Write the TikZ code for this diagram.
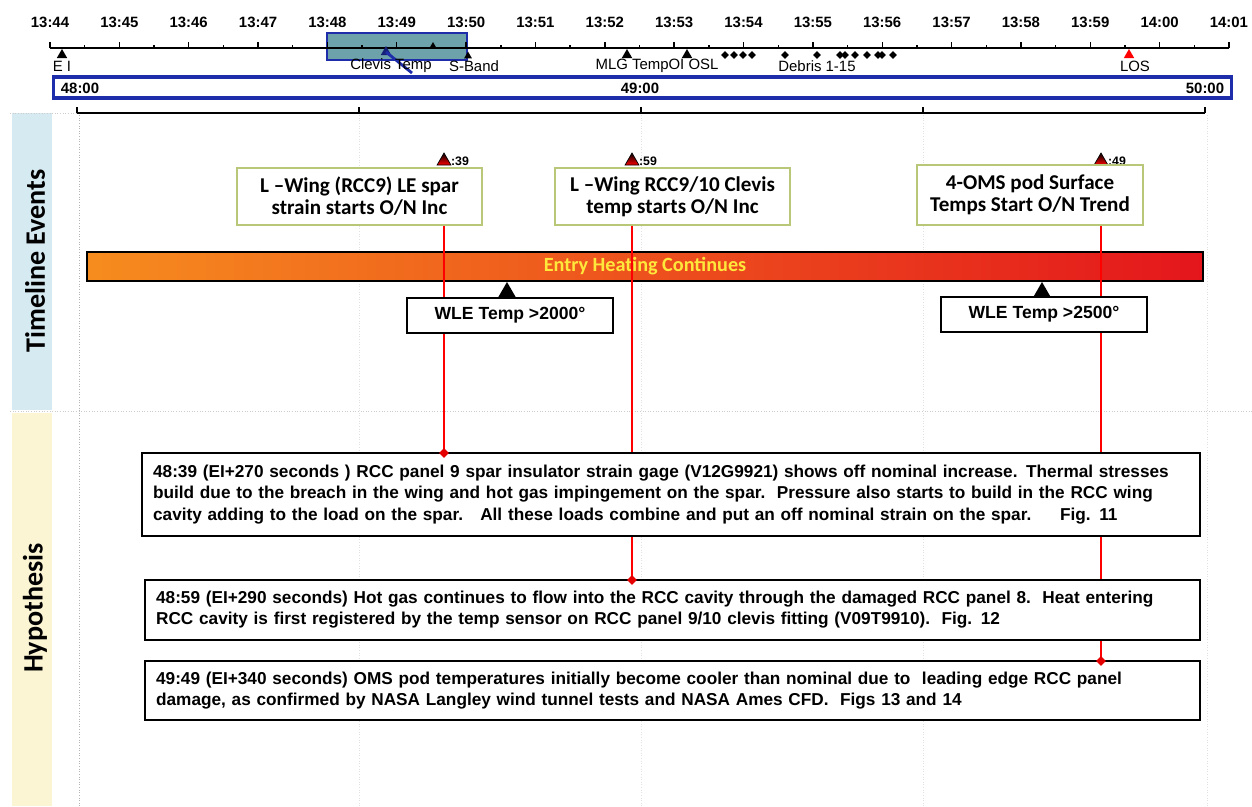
\documentclass[tikz,border=0pt]{standalone}
\usepackage{fontspec}
\setmainfont{Liberation Sans}
\newfontfamily\calfont{Carlito}
\usetikzlibrary{shapes.geometric,positioning}
\definecolor{tlblue}{RGB}{30,45,170}
\definecolor{hlfill}{RGB}{110,162,170}
\definecolor{evgreen}{RGB}{185,200,120}
\definecolor{bandblue}{RGB}{214,234,242}
\definecolor{bandyellow}{RGB}{252,245,212}
\definecolor{heatorange}{RGB}{246,140,30}
\definecolor{heatmid}{RGB}{242,90,30}
\definecolor{heatred}{RGB}{228,22,28}
\definecolor{heattext}{RGB}{255,232,60}
\definecolor{gridgray}{RGB}{205,205,205}

\begin{document}
\begin{tikzpicture}[x=0.02cm,y=-0.02cm,
  tlab/.style={font=\bfseries\fontsize{8.5}{10}\selectfont, inner sep=0pt},
  mlab/.style={font=\fontsize{8.5}{10}\selectfont, inner sep=0pt},
  tri/.style={regular polygon, regular polygon sides=3, fill=black, inner sep=0pt, minimum size=0.24cm},
  dmd/.style={diamond, fill=black, inner sep=0pt, minimum size=0.16cm},
  evbox/.style={draw=evgreen, line width=0.8pt, fill=white, align=center, minimum height=1.14cm, font=\calfont\bfseries\fontsize{12}{12.5}\selectfont},
  evmark/.style={regular polygon, regular polygon sides=3, draw=black, top color=black, bottom color=red, inner sep=0pt, minimum size=0.32cm},
  evtime/.style={font=\bfseries\fontsize{7}{8}\selectfont, inner sep=0pt},
  wlebox/.style={draw, thick, fill=white, minimum width=4.12cm, minimum height=0.7cm, font=\bfseries\fontsize{10}{12}\selectfont},
  hypbox/.style={draw, thick, fill=white, align=left, inner xsep=0.22cm, text width=20.66cm, font=\bfseries\fontsize{9.8}{12}\selectfont},
  redline/.style={red, line width=0.6pt},
  reddot/.style={diamond, fill=red!90!black, inner sep=0pt, minimum size=0.2cm},
  grid/.style={gridgray, densely dotted, line width=0.5pt},
  band/.style={rotate=90, font=\calfont\bfseries\fontsize{16}{18}\selectfont}
]
\useasboundingbox (0,0) rectangle (1252,806);

\fill[bandblue] (12,113) rectangle (52,410);
\fill[bandyellow] (12,413) rectangle (52,806);
\node[band] (bandte) at (35,261) {Timeline Events};
\node[band] (bandhy) at (35,608) {Hypothesis};
\draw[grid] (10,113) -- (77,113);
\draw[grid] (10,411) -- (1252,411);
\draw[grid, gridgray!150] (79,115) -- (79,806);
\foreach \x in {359,641,923,1207}
  \draw[grid, gridgray!60] (\x,115) -- (\x,806);

\fill[hlfill, draw=tlblue, line width=1.6pt] (327,33) rectangle (467,60);
\foreach \t [count=\i from 0] in {13:44,13:45,13:46,13:47,13:48,13:49,13:50,13:51,13:52,13:53,13:54,13:55,13:56,13:57,13:58,13:59,14:00,14:01}
  \node[tlab] (t\i) at (50+69.35*\i,22) {\t};
\draw[line width=0.8pt] (50,48) -- (1229,48);
\foreach \k in {0,...,17}
  \draw[line width=0.8pt] (50+69.35*\k,48) -- ++(0,-6);
\foreach \k in {0,...,16}
  \draw[line width=0.8pt] (84.7+69.35*\k,48) -- ++(0,-3);

\node[tri] (mei) at (62,55) {};
\node[mlab] (lei) at (62,66) {E I};
\node[tri, fill=tlblue!70!black] (mct) at (386,52) {};
\draw[tlblue, line width=1.6pt] (mct.center) -- (412,73);
\node[tri, minimum size=0.16cm] (mct2) at (433,46) {};
\node[mlab] (lct) at (391,66) {Clevis Temp};
\node[tri, minimum size=0.18cm] (msb) at (468,56) {};
\node[mlab] (lsb) at (474,66) {S-Band};
\node[tri] (mmlg) at (627,55) {};
\node[tri] (moi) at (687,55) {};
\node[mlab] (lmlg) at (657,66) {MLG TempOI OSL};
\foreach \x [count=\j] in {725,734,743,752,785,817,840,845,855,867,878,882,893}
  \node[dmd] (dbr\j) at (\x,55) {};
\node[mlab] (ldbr) at (817,66) {Debris 1-15};
\node[tri, fill=red] (mlos) at (1129,55) {};
\node[mlab] (llos) at (1135,66) {LOS};

\node[draw=tlblue, line width=1.8pt, minimum width=23.58cm, minimum height=0.42cm] (clock) at (642.5,87.5) {};
\node[tlab] (c48) at (80,88) {48:00};
\node[tlab] (c49) at (640,88) {49:00};
\node[tlab] (c50) at (1205,88) {50:00};
\draw[line width=0.8pt] (77,113) -- (1205,113);
\foreach \x in {77,359,641,923,1205}
  \draw[line width=0.8pt] (\x,113) -- (\x,107);

\node[evmark] (m1) at (444,161) {};
\node[evtime, right=1pt of m1] (m1t) {:39};
\node[evmark] (m2) at (632,161) {};
\node[evtime, right=1pt of m2] (m2t) {:59};
\node[evmark] (m3) at (1101,161) {};
\node[evtime, right=1pt of m3] (m3t) {:49};
\node[evbox, minimum width=4.9cm] (ev1) at (359.5,196.5) {L –Wing (RCC9) LE spar\\strain starts O/N Inc};
\node[evbox, minimum width=4.7cm] (ev2) at (672.5,196.5) {L –Wing RCC9/10 Clevis\\temp starts O/N Inc};
\node[evbox, minimum width=4.52cm, minimum height=1.2cm] (ev3) at (1030,195) {4-OMS pod Surface\\Temps Start O/N Trend};

\node[draw, line width=0.8pt, minimum width=22.32cm, minimum height=0.54cm, left color=heatorange, middle color=heatmid, right color=heatred, text=heattext, font=\calfont\bfseries\fontsize{11.5}{13}\selectfont] (heat) at (645,266.5) {Entry Heating Continues};

\coordinate (d1) at (444,453);
\coordinate (d2) at (632,580);
\coordinate (d3) at (1101,661);
\draw[redline] (ev1.south -| m1) -- (d1);
\draw[redline] (ev2.south -| m2) -- (d2);
\draw[redline] (ev3.south -| m3) -- (d3);

\node[tri, minimum size=0.42cm] (w1m) at (507,292.5) {};
\node[wlebox] (w1) at (510,315.5) {WLE Temp >2000°};
\node[tri, minimum size=0.42cm] (w2m) at (1042,292.5) {};
\node[wlebox] (w2) at (1044,314.5) {WLE Temp >2500°};

\node[hypbox, text width=20.72cm, minimum height=1.66cm] (hyp1) at (671,494.5) {48:39 (EI+270 seconds ) RCC panel 9 spar insulator strain gage (V12G9921) shows off nominal increase. Thermal stresses\\build due to the breach in the wing and hot gas impingement on the spar.\ \ Pressure also starts to build in the RCC wing\\cavity adding to the load on the spar.\ \ \ All these loads combine and put an off nominal strain on the spar.\ \ \ \ \ Fig. 11};
\node[hypbox, minimum height=1.2cm] (hyp2) at (672.5,610) {48:59 (EI+290 seconds) Hot gas continues to flow into the RCC cavity through the damaged RCC panel 8.\ \ Heat entering\\RCC cavity is first registered by the temp sensor on RCC panel 9/10 clevis fitting (V09T9910).\ \ Fig. 12};
\node[hypbox, minimum height=1.18cm] (hyp3) at (672.5,690.5) {49:49 (EI+340 seconds) OMS pod temperatures initially become cooler than nominal due to\ \ leading edge RCC panel\\damage, as confirmed by NASA Langley wind tunnel tests and NASA Ames CFD.\ \ Figs 13 and 14};
\node[reddot] (r1) at (d1) {};
\node[reddot] (r2) at (d2) {};
\node[reddot] (r3) at (d3) {};
\end{tikzpicture}
\end{document}
